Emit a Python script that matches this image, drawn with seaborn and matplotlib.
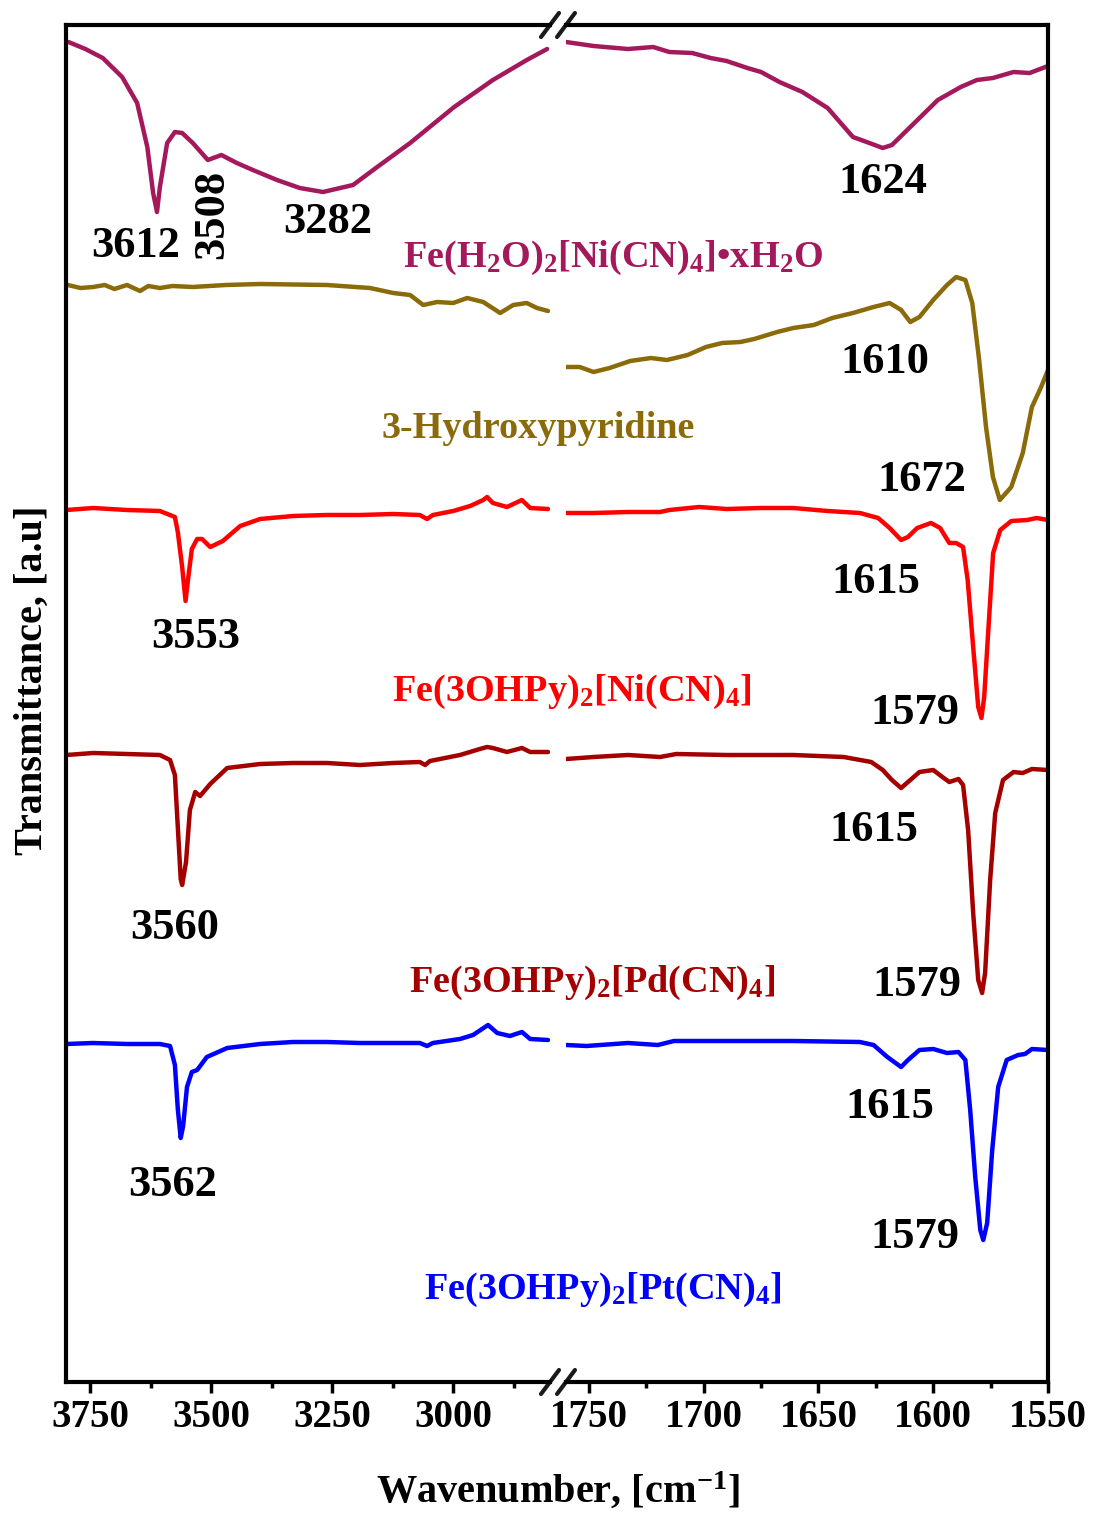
import numpy as np
import pandas as pd
import seaborn as sns
import matplotlib.pyplot as plt
from matplotlib.ticker import MultipleLocator, FixedLocator

# ---------------- data (wavenumber in cm-1, transmittance in a.u., offset stacked) -------------
# Fe(H2O)2[Ni(CN)4]·xH2O
wn_hi_h2o = [3795, 3760, 3724, 3684, 3653, 3632, 3620, 3612, 3606, 3591, 3575, 3560, 3538, 3507, 3479,
             3447, 3414, 3364, 3317, 3269, 3207, 3157, 3089, 2998, 2918, 2848, 2806]
t_hi_h2o = [1340, 1333, 1324, 1305, 1279, 1235, 1189, 1170, 1195, 1239, 1250, 1249, 1239, 1222, 1227,
            1219, 1212, 1202, 1194, 1190, 1197, 1215, 1239, 1275, 1302, 1322, 1333]
wn_lo_h2o = [1760, 1748, 1733, 1722, 1715, 1705, 1697, 1690, 1681, 1675, 1667, 1657, 1646, 1635, 1629,
             1622, 1618, 1610, 1598, 1588, 1581, 1574, 1565, 1558, 1550]
t_lo_h2o = [1340, 1336, 1333, 1335, 1330, 1329, 1324, 1321, 1314, 1310, 1300, 1290, 1274, 1245, 1240,
            1234, 1237, 1255, 1282, 1295, 1302, 1304, 1310, 1309, 1316]

# 3-Hydroxypyridine
wn_hi_py = [3796, 3770, 3744, 3720, 3700, 3674, 3647, 3630, 3606, 3580, 3538, 3470, 3399, 3261, 3172,
            3124, 3089, 3062, 3033, 3000, 2971, 2938, 2903, 2876, 2848, 2827, 2804]
t_hi_py = [1097, 1094, 1095, 1097, 1093, 1097, 1091, 1096, 1094, 1096, 1095, 1097, 1098, 1097, 1094,
           1089, 1087, 1077, 1080, 1079, 1084, 1080, 1069, 1077, 1079, 1074, 1071]
wn_lo_py = [1760, 1754, 1748, 1741, 1732, 1723, 1716, 1707, 1699, 1692, 1684, 1678, 1668, 1661, 1652,
            1644, 1635, 1626, 1619, 1614, 1610, 1606, 1600, 1594, 1590, 1586, 1583, 1580, 1577, 1574,
            1571, 1566, 1561, 1557, 1553, 1550]
t_lo_py = [1015, 1015, 1010, 1014, 1021, 1024, 1022, 1027, 1035, 1039, 1040, 1043, 1050, 1054, 1057,
           1064, 1069, 1075, 1079, 1072, 1060, 1065, 1082, 1097, 1105, 1102, 1079, 1022, 955, 905,
           882, 895, 929, 975, 995, 1012]

# Fe(3OHPy)2[Ni(CN)4]
wn_hi_ni = [3799, 3744, 3674, 3606, 3575, 3569, 3560, 3553, 3548, 3540, 3529, 3519, 3502, 3476, 3440,
            3399, 3331, 3261, 3193, 3124, 3069, 3054, 3042, 3000, 2965, 2938, 2930, 2918, 2889, 2858,
            2841, 2804]
t_hi_ni = [872, 874, 872, 871, 865, 850, 815, 781, 802, 833, 843, 843, 835, 841, 856,
           863, 866, 867, 867, 868, 867, 863, 867, 871, 876, 882, 885, 879, 875, 882,
           874, 873]
wn_lo_ni = [1760, 1748, 1733, 1719, 1715, 1702, 1690, 1675, 1661, 1646, 1632, 1624, 1619, 1614, 1611,
            1607, 1601, 1597, 1593, 1590, 1587, 1585, 1582.6, 1580.4, 1579, 1577.8, 1576, 1573.9,
            1570.8, 1566, 1559, 1555, 1550]
t_lo_ni = [869, 869, 870, 870, 872, 875, 873, 874, 874, 871, 869, 864, 854, 842, 845,
           854, 859, 854, 839, 839, 835, 802, 735, 675, 664, 685, 752, 829,
           852, 861, 862, 864, 862]

# Fe(3OHPy)2[Pd(CN)4]
wn_hi_pd = [3799, 3744, 3674, 3606, 3585, 3575, 3569, 3563, 3560, 3552, 3544, 3533, 3523, 3502, 3467,
            3399, 3331, 3261, 3193, 3124, 3069, 3058, 3048, 2986, 2945, 2930, 2918, 2889, 2858, 2841,
            2804]
t_hi_pd = [627, 629, 628, 627, 622, 607, 555, 503, 497, 520, 572, 590, 586, 598, 614,
           618, 619, 619, 617, 619, 620, 617, 621, 627, 633, 635, 634, 630, 634, 630,
           630]
wn_lo_pd = [1760, 1748, 1733, 1719, 1712, 1690, 1661, 1639, 1627, 1622, 1618, 1614, 1611, 1606, 1600,
            1596, 1593, 1589, 1587, 1584.8, 1582.6, 1580.4, 1578.7, 1577.4, 1575.2, 1573, 1569.6,
            1565, 1561, 1557, 1550]
t_lo_pd = [623, 625, 627, 625, 628, 627, 627, 625, 620, 612, 602, 594, 600, 610, 612,
           605, 600, 603, 597, 552, 469, 402, 389, 409, 502, 569, 602,
           610, 609, 613, 612]

# Fe(3OHPy)2[Pt(CN)4]
wn_hi_pt = [3799, 3744, 3674, 3606, 3585, 3575, 3569, 3563, 3558, 3550, 3540, 3529, 3509, 3467, 3399,
            3331, 3261, 3193, 3124, 3069, 3054, 3042, 2986, 2959, 2928, 2909, 2883, 2858, 2841, 2804]
t_hi_pt = [338, 339, 338, 338, 336, 317, 273, 244, 256, 295, 310, 312, 325, 334, 338,
           340, 340, 339, 339, 339, 336, 339, 343, 347, 357, 349, 346, 350, 343, 342]
wn_lo_pt = [1760, 1751, 1733, 1720, 1713, 1690, 1661, 1632, 1626, 1620, 1614, 1611, 1606, 1600, 1594,
            1589, 1586, 1583.9, 1581.7, 1579.5, 1578.2, 1576.5, 1574.3, 1571.7, 1568, 1563, 1560,
            1557, 1550]
t_lo_pt = [337, 336, 339, 337, 341, 341, 341, 340, 337, 325, 315, 322, 332, 333, 329,
           330, 322, 272, 205, 152, 142, 159, 232, 295, 322, 327, 328,
           333, 332]

colors = ['#A3195B', '#8B6A0A', '#FF0000', '#A50000', '#0000FF']
names = [r'Fe(H$_2$O)$_2$[Ni(CN)$_4$]•xH$_2$O', '3-Hydroxypyridine',
         r'Fe(3OHPy)$_2$[Ni(CN)$_4$]', r'Fe(3OHPy)$_2$[Pd(CN)$_4$]', r'Fe(3OHPy)$_2$[Pt(CN)$_4$]']
hi_x = [wn_hi_h2o, wn_hi_py, wn_hi_ni, wn_hi_pd, wn_hi_pt]
hi_y = [t_hi_h2o, t_hi_py, t_hi_ni, t_hi_pd, t_hi_pt]
lo_x = [wn_lo_h2o, wn_lo_py, wn_lo_ni, wn_lo_pd, wn_lo_pt]
lo_y = [t_lo_h2o, t_lo_py, t_lo_ni, t_lo_pd, t_lo_pt]

# peak annotations: (panel, wavenumber, y, text, rotation)
peak_labels = [
    ('hi', 3657, 1136, '3612', 0), ('hi', 3498, 1168, '3508', 90), ('hi', 3259, 1160, '3282', 0),
    ('lo', 1622, 1200, '1624', 0),
    ('lo', 1621, 1020, '1610', 0), ('lo', 1605, 902, '1672', 0),
    ('hi', 3533, 745, '3553', 0), ('lo', 1625, 800, '1615', 0), ('lo', 1608, 669, '1579', 0),
    ('hi', 3575, 454, '3560', 0), ('lo', 1626, 552, '1615', 0), ('lo', 1607, 397, '1579', 0),
    ('hi', 3579, 197, '3562', 0), ('lo', 1619, 275, '1615', 0), ('lo', 1608, 145, '1579', 0),
]
# compound name positions: (panel, wavenumber, y)
name_pos = [('lo', 1739.5, 1124), ('hi', 2825, 954), ('lo', 1757.4, 690), ('lo', 1748.7, 399), ('lo', 1744, 92)]

# ---------------- style ----------------
sns.set_theme(style='ticks')
plt.rcParams['font.family'] = ['Liberation Serif', 'DejaVu Serif']
plt.rcParams['font.weight'] = 'bold'
plt.rcParams['text.color'] = 'black'
plt.rcParams['axes.labelcolor'] = 'black'
plt.rcParams['xtick.color'] = 'black'
plt.rcParams['mathtext.fontset'] = 'custom'
plt.rcParams['mathtext.rm'] = 'Liberation Serif:bold'
plt.rcParams['mathtext.bf'] = 'Liberation Serif:bold'
plt.rcParams['mathtext.it'] = 'Liberation Serif:bold'
plt.rcParams['mathtext.default'] = 'bf'

W, H = 1093, 1515
fig = plt.figure(figsize=(W / 100, H / 100), dpi=100)
axL = fig.add_axes([66 / W, 1 - 1382 / H, 484 / W, 1357 / H])
axR = fig.add_axes([566 / W, 1 - 1382 / H, 482 / W, 1357 / H], sharey=axL)
axes = {'hi': axL, 'lo': axR}

for c, xh, yh, xl, yl in zip(colors, hi_x, hi_y, lo_x, lo_y):
    sns.lineplot(x=xh, y=yh, ax=axL, color=c, linewidth=3.2, estimator=None, sort=False)
    sns.lineplot(x=xl, y=yl, ax=axR, color=c, linewidth=3.2, estimator=None, sort=False)

axL.set_xlim(3800, 2800)
axR.set_xlim(1760, 1550)
axL.set_ylim(0, 1357)

axL.xaxis.set_major_locator(FixedLocator([3750, 3500, 3250, 3000]))
axL.xaxis.set_minor_locator(FixedLocator([3625, 3375, 3125, 2875]))
axR.xaxis.set_major_locator(MultipleLocator(50))
axR.xaxis.set_minor_locator(MultipleLocator(25))

axL.spines['right'].set_visible(False)
axR.spines['left'].set_visible(False)
for ax in (axL, axR):
    for sp in ax.spines.values():
        sp.set_linewidth(3)
        sp.set_color('black')
    ax.set_yticks([])
    ax.tick_params(axis='y', left=False, right=False, labelleft=False)
    ax.tick_params(axis='x', which='major', direction='out', length=8, width=2.5,
                   labelsize=28, pad=4, top=False, colors='black')
    ax.tick_params(axis='x', which='minor', direction='out', length=4, width=2.5, top=False)
    ax.set_xlabel('')
    ax.set_ylabel('')
    ax.patch.set_alpha(0)
    for lab in ax.get_xticklabels():
        lab.set_fontweight('bold')

# break marks
dx, dy = 9 / 484, 12 / 1357
for y0 in (0, 1):
    axL.plot([1 - dx, 1 + dx], [y0 - dy, y0 + dy], transform=axL.transAxes, color='k', lw=3, clip_on=False)
    axR.plot([-dx, dx], [y0 - dy, y0 + dy], transform=axR.transAxes, color='k', lw=3, clip_on=False)

for panel, x, y, txt, rot in peak_labels:
    axes[panel].text(x, y, txt, ha='center', va='center', rotation=rot, fontsize=32,
                     fontweight='bold', color='black', clip_on=False, zorder=5)

for (panel, x, y), txt, c in zip(name_pos, names, colors):
    axes[panel].text(x, y, txt, ha='center', va='center', fontsize=27.5, fontweight='bold',
                     color=c, clip_on=False, zorder=5)

fig.text(558 / W, 1 - 1490 / H, r'Wavenumber, [cm$^{-1}$]', ha='center', va='center',
         fontsize=29, fontweight='bold', color='black')
fig.text(32 / W, 1 - 680 / H, 'Transmittance, [a.u]', ha='center', va='center', rotation=90,
         fontsize=29, fontweight='bold', color='black')

fig.savefig('out.png', dpi=100, facecolor='white')
